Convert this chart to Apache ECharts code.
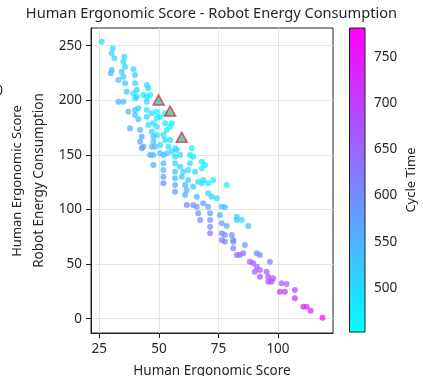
<!DOCTYPE html>
<html>
<head>
<meta charset="utf-8">
<script src="https://cdn.jsdelivr.net/npm/echarts@6/dist/echarts.min.js"></script>
<style>
  html, body { margin: 0; padding: 0; background: #fff; }
  #chart { width: 423px; height: 376px; }
</style>
</head>
<body>
<div id="chart"></div>
<script>
// Candidate solutions: ergonomic score, robot energy use, cycle time
const ergonomic = [
  26.0, 30.6, 30.2, 31.3, 35.5, 35.1, 35.8, 34.4, 30.2, 29.8,
  39.3, 40.0, 35.1, 33.0, 35.8, 40.0, 36.5, 40.7, 44.9, 45.6,
  46.3, 33.0, 35.1, 40.0, 44.9, 44.9, 39.3, 43.5, 37.2, 40.0,
  41.4, 40.0, 41.4, 44.9, 44.9, 47.0, 49.1, 49.1, 50.5, 52.6,
  45.6, 47.7, 49.1, 52.6, 53.3, 54.7, 55.4, 37.9, 42.1, 42.8,
  42.1, 43.5, 47.0, 47.7, 49.1, 47.7, 48.4, 51.9, 52.6, 50.5,
  54.0, 54.7, 56.8, 63.8, 64.4, 46.3, 50.5, 53.3, 55.4, 57.5,
  47.7, 51.9, 56.8, 58.9, 63.1, 47.7, 51.9, 56.8, 58.9, 63.1,
  68.0, 51.9, 51.9, 51.9, 56.8, 60.2, 62.3, 65.2, 56.8, 59.6,
  62.3, 66.5, 68.6, 70.7, 72.8, 78.5, 56.8, 56.8, 61.0, 61.7,
  64.4, 61.0, 61.7, 64.4, 68.6, 70.7, 65.9, 70.7, 72.2, 74.3,
  68.0, 66.5, 71.5, 75.6, 67.3, 71.5, 76.4, 78.5, 71.5, 71.5,
  76.4, 77.7, 80.6, 76.4, 77.7, 81.2, 81.2, 82.7, 84.8, 87.5,
  86.1, 82.7, 84.0, 85.4, 91.1, 92.4, 88.2, 89.6, 96.6, 91.1,
  92.4, 90.3, 95.2, 92.4, 95.9, 95.9, 97.3, 98.0, 101.5, 103.6,
  100.8, 102.9, 107.1, 107.1, 110.6, 112.0, 113.7, 118.7, 65.9, 76.4,
  77.7, 82.7, 81.2, 69.4, 68.0, 42.8, 47.0, 40.7
];
const energy = [
  253.7, 247.6, 243.0, 238.5, 239.9, 235.3, 230.8, 226.2, 227.7, 224.7,
  228.4, 223.2, 221.6, 218.6, 215.6, 215.6, 207.9, 209.4, 214.0, 211.0,
  204.9, 198.7, 198.7, 201.8, 203.3, 198.7, 206.4, 204.9, 189.6, 191.1,
  192.7, 186.5, 182.6, 191.1, 185.0, 188.1, 189.6, 183.5, 185.0, 188.1,
  177.4, 178.9, 175.8, 178.9, 172.8, 175.8, 178.9, 174.4, 172.8, 166.7,
  162.1, 157.5, 171.2, 166.7, 168.3, 162.1, 157.5, 168.3, 163.6, 159.1,
  157.5, 163.6, 156.0, 156.0, 148.4, 149.9, 151.5, 151.5, 152.9, 154.5,
  149.9, 149.9, 148.4, 149.9, 149.9, 140.8, 142.3, 142.3, 139.2, 142.3,
  143.8, 136.2, 130.0, 124.0, 134.6, 134.6, 136.2, 134.6, 128.6, 130.0,
  127.0, 125.5, 127.0, 124.0, 127.0, 122.4, 122.4, 116.3, 122.4, 117.9,
  120.9, 113.3, 104.1, 104.1, 105.7, 102.6, 111.7, 114.8, 111.7, 110.3,
  124.0, 96.5, 96.5, 95.0, 90.4, 90.4, 87.4, 84.9, 84.2, 78.2,
  78.2, 76.6, 76.6, 72.1, 70.5, 70.5, 64.5, 93.4, 90.4, 84.9,
  67.5, 58.3, 58.3, 59.9, 59.9, 58.3, 52.2, 50.7, 52.2, 47.6,
  44.6, 43.0, 43.0, 38.5, 38.5, 33.9, 33.9, 37.0, 32.4, 31.8,
  24.7, 24.7, 26.3, 18.7, 11.0, 11.0, 7.3, 0.9, 102.6, 102.6,
  102.0, 90.4, 72.1, 140.8, 137.7, 156.0, 157.5, 203.3
];
const cycleTime = [
  495, 505, 510, 515, 505, 510, 515, 530, 540, 545,
  505, 510, 525, 535, 530, 510, 535, 515, 490, 495,
  485, 550, 545, 500, 485, 490, 495, 485, 545, 520,
  505, 530, 535, 495, 505, 490, 475, 485, 470, 470,
  500, 495, 490, 480, 480, 475, 470, 560, 545, 555,
  565, 575, 510, 520, 505, 530, 535, 495, 500, 510,
  495, 490, 490, 470, 475, 560, 530, 515, 505, 495,
  545, 530, 505, 500, 480, 560, 540, 515, 510, 490,
  475, 555, 575, 595, 525, 510, 500, 495, 540, 525,
  515, 495, 490, 480, 475, 470, 560, 575, 540, 545,
  525, 570, 615, 600, 580, 575, 550, 510, 500, 495,
  495, 600, 570, 555, 610, 590, 575, 570, 600, 630,
  600, 600, 585, 620, 615, 600, 625, 510, 510, 530,
  580, 650, 645, 640, 600, 605, 665, 660, 620, 650,
  665, 670, 655, 680, 670, 690, 685, 670, 665, 660,
  700, 700, 680, 700, 740, 740, 745, 775, 600, 540,
  535, 515, 600, 470, 480, 580, 540, 500
];

// Highlighted trade-off solutions
const paretoErgonomic = [49.9, 54.7, 59.6];
const paretoEnergy = [200.3, 190.2, 166.1];

// Axis ticks and colour range
const xTicks = [25, 50, 75, 100];
const yTicks = [0, 50, 100, 150, 200, 250];
const cTicks = [500, 550, 600, 650, 700, 750];
const cycleMin = 452.4;
const cycleMax = 781;

const FONT = '"Noto Sans", sans-serif';
const TXT = '#262626';

const points = ergonomic.map((x, i) => [x, energy[i], cycleTime[i]]);
const pareto = paretoErgonomic.map((x, i) => [x, paretoEnergy[i]]);

const chart = echarts.init(document.getElementById('chart'), null, { renderer: 'canvas' });

const tickStyle = { show: true, length: 5, inside: false, lineStyle: { color: '#222', width: 1 } };

chart.setOption({
  animation: false,
  title: {
    text: 'Human Ergonomic Score - Robot Energy Consumption',
    left: 'center',
    top: 6,
    padding: [0, 11, 0, 5],
    textStyle: { fontFamily: FONT, fontSize: 14.6, fontWeight: 'normal', color: TXT }
  },
  grid: [
    { left: 91, top: 28, width: 242, height: 305, outerBoundsMode: 'none', containLabel: false,
      show: true, borderColor: '#222', borderWidth: 1, backgroundColor: 'transparent' },
    { left: 349.5, top: 28, width: 15.5, height: 304, outerBoundsMode: 'none', containLabel: false }
  ],
  xAxis: [
    {
      gridIndex: 0, type: 'value', min: 21.5, max: 123.1,
      name: 'Human Ergonomic Score', nameLocation: 'middle', nameGap: 31,
      nameTextStyle: { fontFamily: FONT, fontSize: 13.5, color: TXT },
      axisLine: { show: true, onZero: false, lineStyle: { color: '#222' } },
      axisTick: Object.assign({ customValues: xTicks }, tickStyle),
      axisLabel: { customValues: xTicks, margin: 9, fontFamily: FONT, fontSize: 13.5, color: TXT },
      splitLine: { show: true, lineStyle: { color: '#e6e6e6', width: 1 } }
    },
    { gridIndex: 1, type: 'value', min: 0, max: 1, show: false }
  ],
  yAxis: [
    {
      gridIndex: 0, type: 'value', min: -13.1, max: 266.2,
      name: 'Robot Energy Consumption', nameLocation: 'middle', nameGap: 45,
      nameTextStyle: { fontFamily: FONT, fontSize: 13.5, color: TXT },
      axisLine: { show: true, onZero: false, lineStyle: { color: '#222' } },
      axisTick: Object.assign({ customValues: yTicks }, tickStyle),
      axisLabel: { customValues: yTicks, margin: 9, fontFamily: FONT, fontSize: 13.5, color: TXT },
      splitLine: { show: true, lineStyle: { color: '#e6e6e6', width: 1 } }
    },
    {
      gridIndex: 1, type: 'value', position: 'right', min: cycleMin, max: cycleMax,
      name: 'Cycle Time', nameLocation: 'middle', nameGap: 40, nameRotate: 90,
      nameTextStyle: { fontFamily: FONT, fontSize: 13, color: TXT },
      axisLine: { show: false },
      axisTick: Object.assign({ customValues: cTicks }, tickStyle),
      axisLabel: { customValues: cTicks, margin: 9, fontFamily: FONT, fontSize: 13.5, color: TXT },
      splitLine: { show: false }
    }
  ],
  visualMap: {
    show: false, type: 'continuous', seriesIndex: 0, dimension: 2,
    min: cycleMin, max: cycleMax,
    inRange: { color: ['#00ffff', '#ff00ff'] }
  },
  graphic: [
    // clipped labels of the neighbouring panel
    { type: 'text', x: 3, y: 91, style: { text: '0', align: 'right', verticalAlign: 'middle', fontFamily: FONT, fontSize: 13.5, fill: TXT } },
    { type: 'text', x: 17, y: 181, rotation: Math.PI / 2, style: { text: 'Human Ergonomic Score', align: 'center', verticalAlign: 'middle', fontFamily: FONT, fontSize: 13, fill: TXT } }
  ],
  series: [
    {
      type: 'scatter', xAxisIndex: 0, yAxisIndex: 0,
      data: points, symbolSize: 6,
      itemStyle: { opacity: 0.72 },
      z: 2
    },
    {
      type: 'scatter', xAxisIndex: 0, yAxisIndex: 0,
      data: pareto, symbol: 'triangle', symbolSize: [11, 10],
      itemStyle: { color: 'rgba(40,175,160,0.85)', borderColor: '#e0303c', borderWidth: 1.5 },
      z: 3
    },
    {
      // colour bar for cycle time
      type: 'custom', xAxisIndex: 1, yAxisIndex: 1, silent: true,
      data: [[0, cycleMin, cycleMax]],
      renderItem: function (params, api) {
        const top = api.coord([0, api.value(2)]);
        const bottom = api.coord([0, api.value(1)]);
        const cs = params.coordSys;
        return {
          type: 'rect',
          shape: { x: cs.x, y: top[1], width: cs.width, height: bottom[1] - top[1] },
          style: {
            fill: new echarts.graphic.LinearGradient(0, 0, 0, 1, [
              { offset: 0, color: '#ff00ff' },
              { offset: 1, color: '#00ffff' }
            ]),
            stroke: '#222', lineWidth: 1
          }
        };
      }
    }
  ]
});
</script>
</body>
</html>
